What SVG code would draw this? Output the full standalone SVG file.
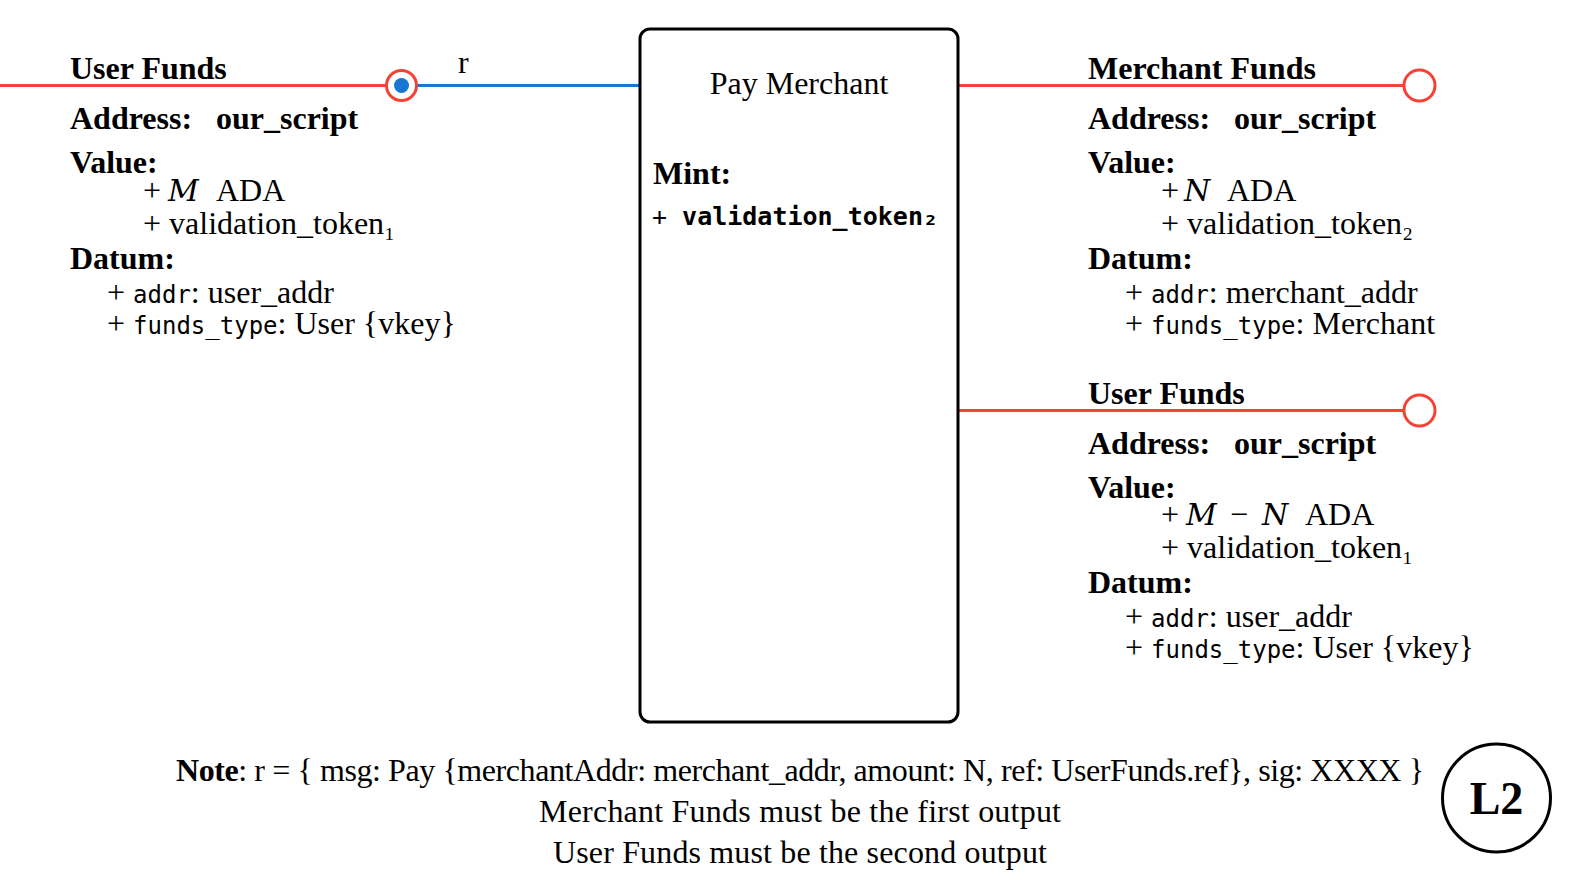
<svg xmlns="http://www.w3.org/2000/svg" width="1578" height="883" viewBox="0 0 1578 883">
<style>
text{font-family:"Liberation Serif","DejaVu Serif",serif;font-size:32px;fill:#000}
.b{font-weight:bold}
.i{font-family:"DejaVu Serif","Liberation Serif",serif;font-style:italic;font-size:30px}
.m{font-family:"DejaVu Sans Mono","Liberation Mono",monospace;font-size:24px}
.mm{font-family:"DejaVu Sans Mono","Liberation Mono",monospace;font-size:25px}
.big{font-size:46px}
.red{stroke:#f44336;stroke-width:3;fill:none}
.port{stroke:#f44336;stroke-width:3;fill:#fff}
.blue{stroke:#1976d2;stroke-width:3;fill:none}
</style>
<rect width="1578" height="883" fill="#fff"/>
<g id="connectors">
<line class="red" x1="0" y1="85.5" x2="386" y2="85.5"/>
<line class="blue" x1="417" y1="85.5" x2="640" y2="85.5"/>
<line class="red" x1="958" y1="85.5" x2="1404" y2="85.5"/>
<line class="red" x1="958" y1="410.5" x2="1404" y2="410.5"/>
<text x="458" y="73">r</text>
</g>
<g id="tx-pay-merchant">
<rect x="640" y="29" width="318" height="693" rx="10" fill="#fff" stroke="#000" stroke-width="3"/>
<text x="799" y="94" text-anchor="middle">Pay Merchant</text>
<text class="b" x="653" y="184">Mint:</text>
<text class="mm" x="652" y="225">+ <tspan font-weight="bold">validation_token₂</tspan></text>
</g>
<g id="in-user-funds">
<circle class="port" cx="401.5" cy="85.5" r="15"/>
<circle cx="401.5" cy="85.5" r="7.5" fill="#1976d2"/>
<text class="b" x="70" y="79">User Funds</text>
<text class="b" x="70" y="129">Address:</text>
<text class="b" x="216" y="129">our_script</text>
<text class="b" x="70" y="173">Value:</text>
<text x="143" y="201">+</text>
<text class="i" x="168" y="201">M</text>
<text x="216" y="201">ADA</text>
<text x="143" y="234">+ validation_token₁</text>
<text class="b" x="70" y="269">Datum:</text>
<text x="107" y="303">+ <tspan class="m">addr</tspan>: user_addr</text>
<text x="107" y="334">+ <tspan class="m">funds_type</tspan>: User {vkey}</text>
</g>
<g id="out-merchant-funds">
<circle class="port" cx="1419.5" cy="85.5" r="15.5"/>
<text class="b" x="1088" y="79">Merchant Funds</text>
<text class="b" x="1088" y="129">Address:</text>
<text class="b" x="1234" y="129">our_script</text>
<text class="b" x="1088" y="173">Value:</text>
<text x="1161" y="201">+</text>
<text class="i" x="1184" y="201">N</text>
<text x="1227" y="201">ADA</text>
<text x="1161" y="234">+ validation_token₂</text>
<text class="b" x="1088" y="269">Datum:</text>
<text x="1125" y="303">+ <tspan class="m">addr</tspan>: merchant_addr</text>
<text x="1125" y="334">+ <tspan class="m">funds_type</tspan>: Merchant</text>
</g>
<g id="out-user-funds">
<circle class="port" cx="1419.5" cy="410.5" r="15.5"/>
<text class="b" x="1088" y="404">User Funds</text>
<text class="b" x="1088" y="454">Address:</text>
<text class="b" x="1234" y="454">our_script</text>
<text class="b" x="1088" y="498">Value:</text>
<text x="1161" y="525">+</text>
<text class="i" x="1186" y="525">M</text>
<text x="1230" y="525">−</text>
<text class="i" x="1262" y="525">N</text>
<text x="1305" y="525">ADA</text>
<text x="1161" y="558">+ validation_token₁</text>
<text class="b" x="1088" y="593">Datum:</text>
<text x="1125" y="627">+ <tspan class="m">addr</tspan>: user_addr</text>
<text x="1125" y="658">+ <tspan class="m">funds_type</tspan>: User {vkey}</text>
</g>
<g id="note">
<text x="800" y="781" text-anchor="middle" textLength="1248"><tspan class="b">Note</tspan>: r = { msg: Pay {merchantAddr: merchant_addr, amount: N, ref: UserFunds.ref}, sig: XXXX }</text>
<text x="800" y="822" text-anchor="middle" textLength="522">Merchant Funds must be the first output</text>
<text x="800" y="863" text-anchor="middle" textLength="494">User Funds must be the second output</text>
</g>
<g id="label-l2">
<circle cx="1496.5" cy="798" r="54" fill="#fff" stroke="#000" stroke-width="3"/>
<text class="b big" x="1496.5" y="814" text-anchor="middle">L2</text>
</g>
</svg>
